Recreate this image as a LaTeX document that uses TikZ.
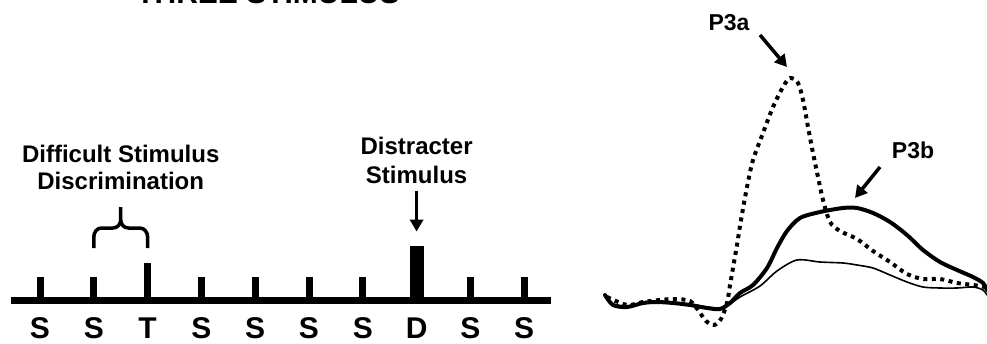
\documentclass[tikz,border=0pt]{standalone}
\usepackage{fontspec}
\setmainfont{Liberation Sans}
\usepackage{tikz}
\usetikzlibrary{arrows.meta}

\begin{document}
\begin{tikzpicture}[x=1pt,y=1pt,
  tick/.style={fill=black,inner sep=0,minimum width=7pt,anchor=south},
  letter/.style={font=\fontsize{30}{30}\selectfont\bfseries,anchor=base,inner sep=0},
  caption/.style={font=\fontsize{24}{28}\selectfont\bfseries,align=center,anchor=north,inner sep=0},
  peak/.style={font=\fontsize{23}{23}\selectfont\bfseries,inner sep=0},
  pointer/.style={-{Triangle[length=12pt,width=13pt]},line width=3.5pt},
  wave/.style={line width=4pt,line join=round,line cap=round},
  thinwave/.style={line width=1.6pt,line join=round,line cap=round},
  dotwave/.style={line width=4pt,dash pattern=on 4pt off 4.5pt}
]
\useasboundingbox (0,0) rectangle (987,343);
\node[font=\fontsize{30}{30}\selectfont\bfseries,anchor=base] (title) at (268,339) {THREE STIMULUS};
% stimulus train
\draw[line width=7pt] (11,43) -- (551,43);
\foreach \lab [count=\i from 0] in {S,S,T,S,S,S,S,D,S,S}
  \node[letter] (s\i) at ({40+53.8*\i},5) {\lab};
\foreach \i in {0,1,3,4,5,6,8,9}
  \node[tick,minimum height=23pt] (t\i) at ({40+53.8*\i},43) {};
\node[tick,minimum height=37pt] (t2) at (147.6,43) {};
\node[tick,minimum width=14pt,minimum height=54pt] (dblk) at (416.6,43) {};
\draw[line width=3.5pt] (93.8,95) -- (93.8,106) to[out=90,in=180] (101.5,115) -- (113,115)
  to[out=0,in=-90] (120.7,123) -- (120.7,136);
\draw[line width=3.5pt] (147.6,95) -- (147.6,106) to[out=90,in=0] (139.9,115) -- (128.4,115)
  to[out=180,in=-90] (120.7,123);
\node[caption,font=\fontsize{24}{27}\selectfont\bfseries] (diff) at (120.7,198) {Difficult Stimulus\\Discrimination};
\node[caption,font=\fontsize{24}{29}\selectfont\bfseries] (distr) at (416.6,206) {Distracter\\Stimulus};
\draw[pointer] ([yshift=-7pt]distr.south) -- ([yshift=14pt]dblk.north);
% ERP traces
\draw[dotwave] plot[smooth,tension=0.5] coordinates {(607,46) (627,38) (643,41) (660,43) (675,44) (690,42)
  (698,33) (706,22) (714,18) (721,24) (727,40) (730,58) (733,75) (737,98) (741,123) (747,156) (753,183)
  (763,210) (773,236) (783,256) (790,265) (798,260) (803,243) (808,216) (813,190) (818,166) (823,143)
  (830,121) (840,112) (857,104) (873,92) (890,81) (907,69) (923,64) (940,64) (957,60) (973,58) (985,56)};
\draw[thinwave] plot[smooth,tension=0.5] coordinates {(607,45) (613,39) (627,37) (643,40) (657,41) (673,40)
  (690,39) (707,36) (720,35) (730,39) (740,46) (760,57) (777,72) (797,83) (820,81) (843,80) (857,78)
  (873,75) (890,68) (907,61) (923,56) (940,55) (957,55) (973,56) (983,53) (987,48)};
\draw[wave] plot[smooth,tension=0.5] coordinates {(605,48) (613,38) (627,36) (643,40) (657,41) (673,40)
  (690,38) (707,35) (720,34) (730,40) (740,50) (753,58) (767,75) (777,95) (787,112) (800,125) (820,131)
  (843,135) (857,135) (873,130) (890,121) (907,108) (923,93) (940,81) (957,73) (973,66) (983,60) (987,53)};
\node[peak] (p3a) at (729,320) {P3a};
\node[peak] (p3b) at (913,193) {P3b};
\coordinate (p3atail) at (760,308);
\coordinate (p3atip) at (787,276);
\coordinate (p3btail) at (880,176);
\coordinate (p3btip) at (855,145);
\draw[pointer] (p3atail) -- (p3atip);
\draw[pointer] (p3btail) -- (p3btip);
\end{tikzpicture}
\end{document}
